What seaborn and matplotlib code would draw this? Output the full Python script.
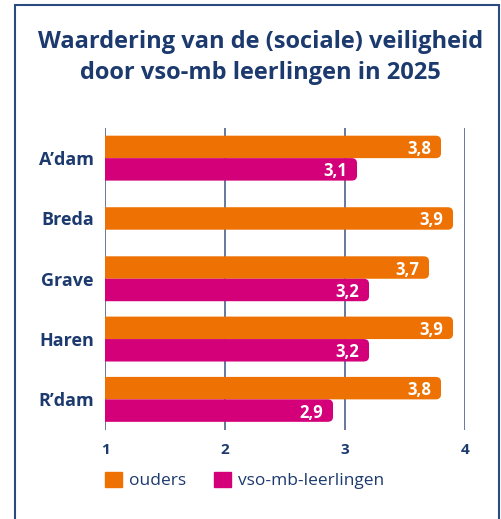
import matplotlib
matplotlib.use("Agg")
import matplotlib.pyplot as plt
import matplotlib.patches as mpatches
import pandas as pd
import seaborn as sns

# data
steden = ["A\u2019dam", "Breda", "Grave", "Haren", "R\u2019dam"]
ouders = [3.8, 3.9, 3.7, 3.9, 3.8]
leerlingen = [3.1, None, 3.2, 3.2, 2.9]
reeksen = ["ouders", "vso-mb-leerlingen"]
x_ticks = [1, 2, 3, 4]

NAVY = "#1c3a6e"
ORANGE = "#ee7203"
MAGENTA = "#d4007a"
FONT = ["Open Sans", "DejaVu Sans"]


def build_frame():
    rows = []
    for stad, o, l in zip(steden, ouders, leerlingen):
        rows.append({"stad": stad, "reeks": reeksen[0], "waarde": o})
        if l is not None:
            rows.append({"stad": stad, "reeks": reeksen[1], "waarde": l})
    return pd.DataFrame(rows)


def main():
    df = build_frame()

    sns.set_theme(style="white")
    plt.rcParams["font.family"] = FONT

    fig = plt.figure(figsize=(5.01, 5.19), dpi=100)
    ax = fig.add_axes([0.2096, 0.1724, 0.7186, 0.581])

    sns.barplot(data=df, y="stad", x="waarde", hue="reeks", order=steden,
                hue_order=reeksen, palette=[ORANGE, MAGENTA], orient="y",
                width=0.745, dodge=True, legend=False, ax=ax, saturation=1)

    ax.set_xlim(1, 4)
    ax.set_xticks(x_ticks)
    ax.set_xticklabels([str(t) for t in x_ticks], fontsize=11, fontweight="bold",
                       color=NAVY)
    ax.tick_params(axis="x", length=0, pad=10)
    ax.tick_params(axis="y", length=0, pad=8)
    for lab in ax.get_yticklabels():
        lab.set_fontsize(13)
        lab.set_fontweight("bold")
        lab.set_color(NAVY)
    ax.set_xlabel("")
    ax.set_ylabel("")
    for s in ax.spines.values():
        s.set_visible(False)
    for t in x_ticks:
        ax.axvline(t, color="#3d5580", lw=1.1, zorder=0)

    # swap square bars for bars with rounded right end; centre single bars
    bars = [p for p in ax.patches if isinstance(p, mpatches.Rectangle)]
    centres = {}
    for p in bars:
        if p.get_width() != p.get_width():
            continue
        idx = int(round(p.get_y() + p.get_height() / 2))
        centres.setdefault(idx, []).append(p)
    for idx, group in centres.items():
        for p in group:
            y0 = p.get_y()
            w, h = p.get_width(), p.get_height()
            if len(group) == 1:
                y0 = idx - h / 2
            col = p.get_facecolor()
            p.remove()
            fb = mpatches.FancyBboxPatch((0, y0), w, h,
                                         boxstyle="round,pad=0,rounding_size=0.045",
                                         mutation_aspect=1.85, facecolor=col,
                                         edgecolor="none", zorder=2)
            ax.add_patch(fb)
            ax.text(w - 0.08, y0 + h / 2, f"{w:.1f}".replace(".", ","),
                    ha="right", va="center_baseline", color="white",
                    fontsize=12, fontweight="bold", zorder=3)

    # legend below the chart
    handles = [mpatches.Patch(color=c, label=r) for c, r in zip([ORANGE, MAGENTA], reeksen)]
    fig.legend(handles=handles, loc="center left", bbox_to_anchor=(0.178, 0.074),
               ncol=2, frameon=False, fontsize=12.5, handlelength=1.0, handleheight=1.0,
               handletextpad=0.4, columnspacing=1.6, labelcolor=NAVY)

    fig.text(0.52, 0.889, "Waardering van de (sociale) veiligheid\ndoor vso-mb leerlingen in 2025",
             ha="center", va="center", fontsize=17, fontweight="bold", color=NAVY,
             linespacing=1.35)

    frame = mpatches.Rectangle((15 / 501, -0.05), 484 / 501, 1.04 - 5 / 519 + 0.01,
                               transform=fig.transFigure, fill=False,
                               edgecolor="#2b4a80", lw=1.5)
    fig.patches.append(frame)

    fig.savefig("out.png", dpi=100)


if __name__ == "__main__":
    main()
